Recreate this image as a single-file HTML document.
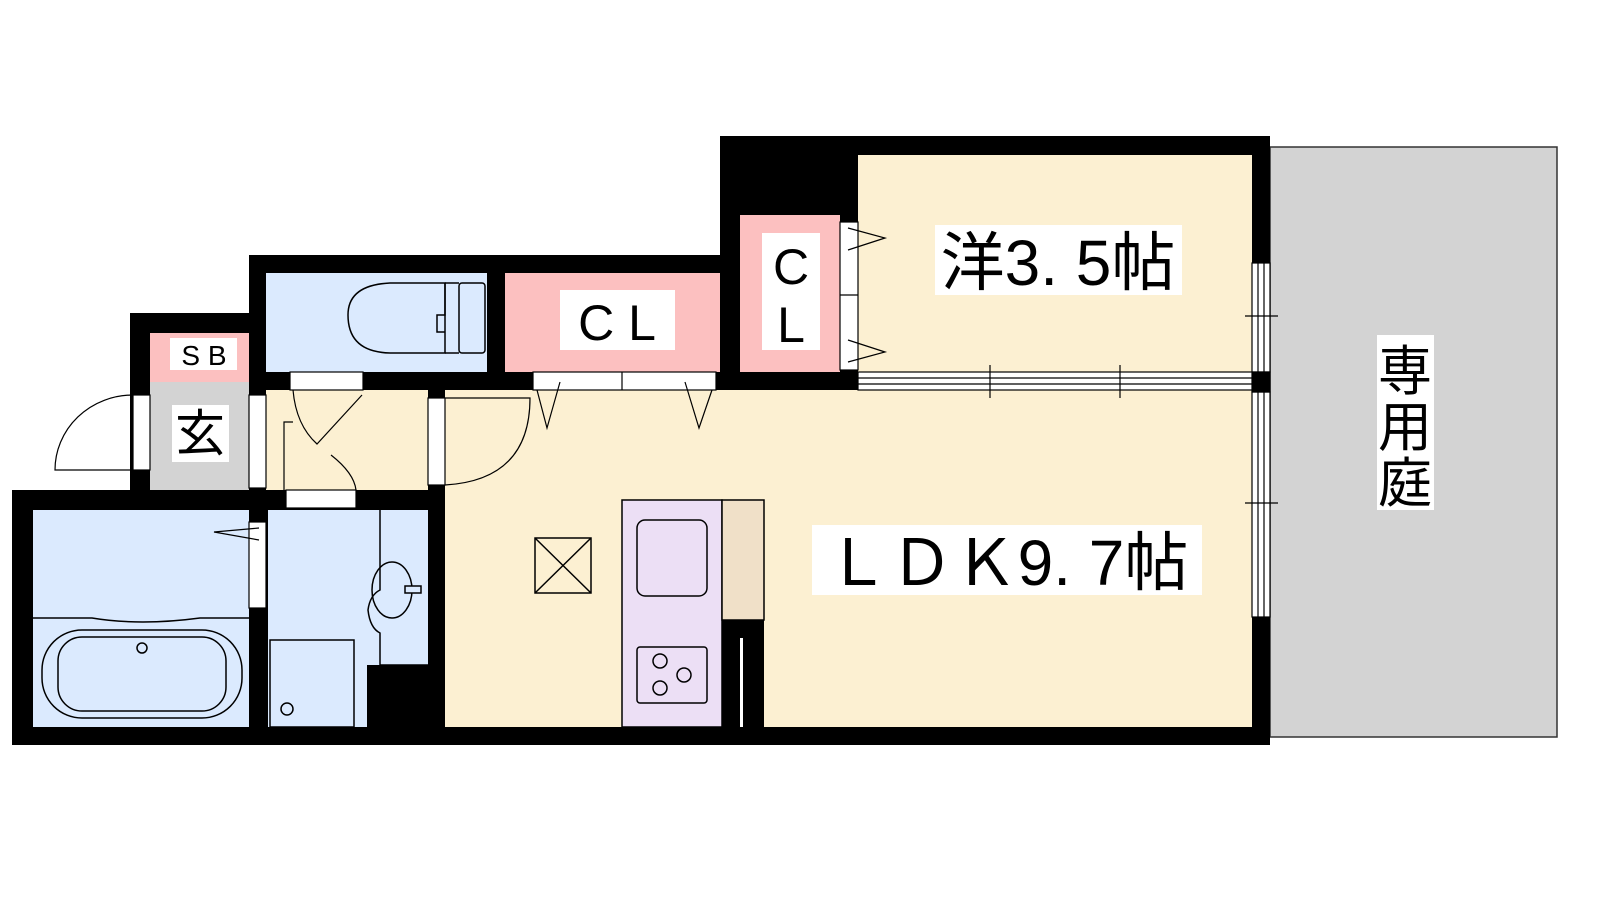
<!DOCTYPE html>
<html><head><meta charset="utf-8"><style>
html,body{margin:0;padding:0;background:#fff;}
svg{display:block}
text{font-family:"Liberation Sans","Noto Sans CJK JP",sans-serif;fill:#000}
</style></head><body>
<svg width="1600" height="900" viewBox="0 0 1600 900" xmlns="http://www.w3.org/2000/svg">
<!-- garden -->
<rect x="1270" y="147" width="287" height="590" fill="#d3d3d3" stroke="#333" stroke-width="1.5"/>
<!-- walls -->
<polygon points="720,136 1270,136 1270,745 12,745 12,490 130,490 130,313 249,313 249,255 720,255" fill="#000"/>
<!-- rooms -->
<rect x="858" y="155" width="394" height="217" fill="#fcf0d2"/>
<rect x="445" y="390" width="807" height="337" fill="#fcf0d2"/>
<rect x="266" y="390" width="162" height="100" fill="#fcf0d2"/>
<rect x="266" y="273" width="221" height="99" fill="#dbeafe"/>
<rect x="505" y="273" width="215" height="99" fill="#fcc0c0"/>
<rect x="740" y="215" width="100" height="157" fill="#fcc0c0"/>
<rect x="150" y="333" width="99" height="49" fill="#fcc0c0"/>
<rect x="150" y="382" width="99" height="108" fill="#d3d3d3"/>
<rect x="33" y="510" width="216" height="217" fill="#dbeafe"/>
<rect x="268" y="510" width="160" height="217" fill="#dbeafe"/>
<rect x="367" y="665" width="61" height="62" fill="#000"/>
<g fill="none" stroke="#000" stroke-width="1.5">
<!-- washbasin counter -->
<path d="M380,510 V590 Q370,595 368,610 Q370,628 380,633 V665 H428"/>
<ellipse cx="392" cy="590" rx="20" ry="28"/>
<rect x="405" y="586" width="16" height="7" fill="#dbeafe"/>
<!-- washer -->
<rect x="270" y="640" width="84" height="87"/>
<circle cx="287" cy="709" r="6"/>
<!-- bath -->
<path d="M33,618 H92 Q140,626 200,618 H249"/>
<rect x="42" y="630" width="200" height="88" rx="40"/>
<rect x="58" y="637" width="168" height="74" rx="24"/>
<circle cx="142" cy="648" r="5"/>
<!-- toilet -->
<path d="M445,283 H390 Q348,285 348,315 Q348,352 390,353 H445 Z"/>
<path d="M445,283 V315 H437 V332 H445"/>
<rect x="459" y="283" width="26" height="70" rx="3"/>
<line x1="445" y1="283" x2="459" y2="283"/><line x1="445" y1="353" x2="459" y2="353"/>
<!-- kitchen -->
<rect x="622" y="500" width="100" height="227" fill="#ecdff5"/>
<rect x="722" y="500" width="42" height="120" fill="#f0e0c8"/>
<rect x="637" y="520" width="70" height="76" rx="8"/>
<rect x="637" y="647" width="70" height="56" rx="3"/>
<circle cx="660" cy="661" r="7"/><circle cx="660" cy="688" r="7"/><circle cx="684" cy="675" r="7"/>
<!-- stair/box -->
<rect x="535" y="538" width="56" height="55"/>
<line x1="535" y1="538" x2="591" y2="593"/><line x1="591" y1="538" x2="535" y2="593"/>
</g>
<rect x="722" y="620" width="42" height="107" fill="#000"/>
<rect x="740" y="638" width="3" height="89" fill="#fff"/>
<!-- windows right wall -->
<g stroke="#000" stroke-width="1.2" fill="#fff">
<rect x="1252" y="263" width="18" height="109"/>
<rect x="1252" y="392" width="18" height="225"/>
<rect x="1252" y="372" width="18" height="20" fill="#000"/>
<line x1="1258" y1="263" x2="1258" y2="372"/><line x1="1264" y1="263" x2="1264" y2="372"/>
<line x1="1258" y1="392" x2="1258" y2="617"/><line x1="1264" y1="392" x2="1264" y2="617"/>
<line x1="1245" y1="316" x2="1278" y2="316"/><line x1="1245" y1="503" x2="1278" y2="503"/>
<!-- sliding door horizontal -->
<rect x="858" y="372" width="394" height="18"/>
<line x1="858" y1="378" x2="1252" y2="378"/><line x1="858" y1="384" x2="1252" y2="384"/>
<line x1="990" y1="365" x2="990" y2="398"/><line x1="1120" y1="365" x2="1120" y2="398"/>
<!-- CL doors -->
<rect x="533" y="372" width="183" height="18"/>
<line x1="622" y1="372" x2="622" y2="390"/>
<polyline points="537,390 547,428 560,382" fill="none"/>
<polyline points="685,382 699,428 712,390" fill="none"/>
<rect x="840" y="222" width="18" height="148"/>
<line x1="840" y1="295" x2="858" y2="295"/>
<polyline points="848,228 885,238 848,250" fill="none"/>
<polyline points="848,340 885,352 848,362" fill="none"/>
<!-- entry doors -->
<rect x="133" y="395" width="17" height="75"/>
<path d="M133,395 A78,75 0 0 0 55,470 H133" fill="none"/>
<rect x="249" y="395" width="17" height="93"/>
<rect x="290" y="372" width="73" height="18"/>
<rect x="286" y="490" width="70" height="18"/>
<path d="M293,390 Q296,425 317,444 L362,395" fill="none"/>
<path d="M284,490 V422 H293"  fill="none"/>
<path d="M331,455 Q354,473 356,490" fill="none"/>
<rect x="428" y="398" width="17" height="87"/>
<path d="M445,398 H530 Q530,480 445,485" fill="none"/>
<rect x="249" y="522" width="17" height="86"/>
<polyline points="259,528 214,532 259,540" fill="none"/>
</g>
<!-- labels -->
<rect x="935" y="225" width="247" height="70" fill="#fff"/>
<text x="1058" y="285" font-size="64" text-anchor="middle">洋3. 5帖</text>
<rect x="560" y="290" width="115" height="60" fill="#fff"/>
<text x="617" y="340" font-size="50" text-anchor="middle">C L</text>
<rect x="762" y="233" width="58" height="117" fill="#fff"/>
<text x="791" y="284" font-size="50" text-anchor="middle">C</text>
<text x="791" y="342" font-size="50" text-anchor="middle">L</text>
<rect x="812" y="525" width="390" height="70" fill="#fff"/>
<text x="1007" y="585" font-size="64" text-anchor="middle">ＬＤＫ9. 7帖</text>
<rect x="1377" y="335" width="57" height="175" fill="#fff"/>
<text x="1405" y="390" font-size="54" text-anchor="middle">専</text>
<text x="1405" y="446" font-size="54" text-anchor="middle">用</text>
<text x="1405" y="502" font-size="54" text-anchor="middle">庭</text>
<rect x="170" y="338" width="67" height="32" fill="#fff"/>
<text x="204" y="365" font-size="28" text-anchor="middle">S B</text>
<rect x="172" y="405" width="57" height="57" fill="#fff"/>
<text x="200" y="451" font-size="50" text-anchor="middle">玄</text>
</svg>
</body></html>
